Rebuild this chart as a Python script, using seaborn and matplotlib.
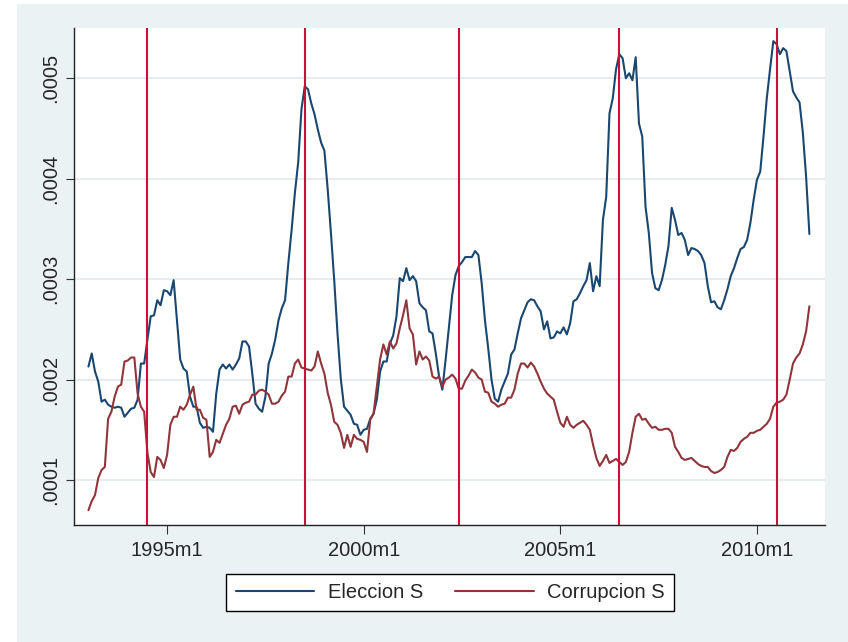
import matplotlib
matplotlib.use("Agg")
import matplotlib.pyplot as plt
from matplotlib.patches import Rectangle
from matplotlib.ticker import FuncFormatter
import pandas as pd
import seaborn as sns

START = "1993m1"
ELECTIONS = ["1994m7", "1998m7", "2002m6", "2006m7", "2010m7"]
X_TICKS = ["1995m1", "2000m1", "2005m1", "2010m1"]
Y_TICKS = [0.0001, 0.0002, 0.0003, 0.0004, 0.0005]
SERIES = ["Eleccion S", "Corrupcion S"]
COLORS = {"Eleccion S": "#1a476f", "Corrupcion S": "#90353b"}

# monthly values from 1993m1 (units of 1e-4)
eleccion = [
    2.13, 2.26, 2.08, 1.98, 1.78, 1.80, 1.75, 1.73, 1.72, 1.73, 1.72, 1.63,
    1.67, 1.71, 1.72, 1.80, 2.16, 2.16, 2.40, 2.63, 2.64, 2.79, 2.74, 2.89,
    2.88, 2.84, 2.99, 2.59, 2.20, 2.11, 2.08, 1.83, 1.73, 1.73, 1.57, 1.52,
    1.53, 1.52, 1.48, 1.86, 2.10, 2.15, 2.11, 2.15, 2.10, 2.15, 2.21, 2.38,
    2.38, 2.33, 2.06, 1.76, 1.71, 1.68, 1.83, 2.16, 2.26, 2.40, 2.59, 2.71,
    2.79, 3.16, 3.49, 3.86, 4.16, 4.69, 4.92, 4.89, 4.75, 4.64, 4.49, 4.36,
    4.28, 3.90, 3.46, 2.99, 2.46, 2.01, 1.73, 1.69, 1.65, 1.56, 1.55, 1.45,
    1.50, 1.51, 1.61, 1.66, 1.80, 2.08, 2.18, 2.18, 2.36, 2.44, 2.63, 3.01,
    2.98, 3.11, 2.99, 3.03, 2.98, 2.76, 2.72, 2.69, 2.48, 2.46, 2.26, 2.03,
    1.90, 2.20, 2.52, 2.84, 3.04, 3.13, 3.17, 3.22, 3.22, 3.22, 3.28, 3.24,
    2.96, 2.59, 2.31, 2.00, 1.81, 1.78, 1.90, 1.98, 2.06, 2.25, 2.30, 2.46,
    2.61, 2.69, 2.77, 2.80, 2.79, 2.73, 2.68, 2.50, 2.58, 2.41, 2.42, 2.48,
    2.46, 2.52, 2.45, 2.56, 2.78, 2.80, 2.86, 2.93, 2.99, 3.16, 2.88, 3.03,
    2.93, 3.59, 3.82, 4.65, 4.80, 5.09, 5.24, 5.20, 5.00, 5.05, 4.98, 5.21,
    4.55, 4.42, 3.72, 3.46, 3.06, 2.91, 2.89, 2.99, 3.14, 3.33, 3.71, 3.59,
    3.44, 3.46, 3.39, 3.24, 3.31, 3.30, 3.28, 3.24, 3.16, 2.93, 2.77, 2.78,
    2.72, 2.70, 2.79, 2.90, 3.03, 3.11, 3.21, 3.30, 3.32, 3.39, 3.56, 3.79,
    3.99, 4.07, 4.42, 4.80, 5.09, 5.37, 5.34, 5.24, 5.30, 5.27, 5.07, 4.87,
    4.81, 4.76, 4.46, 4.02, 3.45,
]
corrupcion = [
    0.70, 0.79, 0.85, 1.02, 1.10, 1.13, 1.61, 1.68, 1.83, 1.93, 1.95, 2.18,
    2.19, 2.22, 2.22, 1.86, 1.73, 1.68, 1.27, 1.08, 1.03, 1.23, 1.20, 1.12,
    1.25, 1.55, 1.63, 1.63, 1.73, 1.70, 1.75, 1.85, 1.93, 1.70, 1.70, 1.62,
    1.60, 1.23, 1.28, 1.40, 1.37, 1.46, 1.55, 1.61, 1.73, 1.74, 1.66, 1.75,
    1.77, 1.78, 1.85, 1.85, 1.89, 1.90, 1.88, 1.85, 1.76, 1.76, 1.78, 1.84,
    1.88, 2.03, 2.03, 2.16, 2.20, 2.12, 2.11, 2.10, 2.09, 2.13, 2.28, 2.16,
    2.06, 1.87, 1.75, 1.58, 1.55, 1.47, 1.32, 1.45, 1.33, 1.45, 1.41, 1.40,
    1.38, 1.28, 1.60, 1.66, 1.93, 2.20, 2.35, 2.25, 2.38, 2.31, 2.36, 2.51,
    2.64, 2.79, 2.51, 2.45, 2.15, 2.28, 2.20, 2.23, 2.19, 2.03, 2.01, 2.03,
    1.93, 2.00, 2.02, 2.05, 2.01, 1.91, 1.91, 1.99, 2.04, 2.10, 2.07, 2.02,
    2.00, 1.88, 1.87, 1.78, 1.76, 1.73, 1.75, 1.76, 1.82, 1.82, 1.90, 2.06,
    2.16, 2.16, 2.12, 2.17, 2.13, 2.06, 1.98, 1.91, 1.86, 1.83, 1.80, 1.68,
    1.57, 1.53, 1.63, 1.55, 1.52, 1.55, 1.57, 1.59, 1.55, 1.50, 1.35, 1.22,
    1.14, 1.19, 1.25, 1.17, 1.19, 1.21, 1.18, 1.15, 1.18, 1.28, 1.47, 1.63,
    1.66, 1.60, 1.61, 1.56, 1.52, 1.53, 1.50, 1.50, 1.51, 1.51, 1.47, 1.33,
    1.28, 1.22, 1.20, 1.21, 1.22, 1.19, 1.16, 1.14, 1.13, 1.13, 1.09, 1.07,
    1.08, 1.10, 1.13, 1.23, 1.30, 1.29, 1.32, 1.38, 1.41, 1.43, 1.47, 1.47,
    1.49, 1.50, 1.53, 1.56, 1.61, 1.73, 1.77, 1.78, 1.80, 1.85, 2.00, 2.16,
    2.22, 2.26, 2.35, 2.48, 2.73,
]


def tm(s):
    """Stata-style monthly date: months since 1960m1."""
    y, m = s.split("m")
    return (int(y) - 1960) * 12 + int(m) - 1


def tm_label(t, _pos=None):
    t = int(round(t))
    return f"{1960 + t // 12}m{t % 12 + 1}"


t0 = tm(START)
df = pd.concat([
    pd.DataFrame({"month": [t0 + i for i in range(len(eleccion))],
                  "value": [v * 1e-4 for v in eleccion], "series": SERIES[0]}),
    pd.DataFrame({"month": [t0 + i for i in range(len(corrupcion))],
                  "value": [v * 1e-4 for v in corrupcion], "series": SERIES[1]}),
])

sns.set_style("white")
plt.rcParams["font.family"] = ["Liberation Sans", "DejaVu Sans"]

fig = plt.figure(figsize=(8.48, 6.42), dpi=100)
fig.patch.set_facecolor("white")
fig.patches.append(Rectangle((0.02, 0.0), 0.98, 0.994, transform=fig.transFigure,
                             facecolor="#eaf2f3", edgecolor="none", zorder=-10))
ax = fig.add_axes([0.0873, 0.1822, 0.973 - 0.0873, 0.9569 - 0.1822])
ax.set_facecolor("white")

for ym in Y_TICKS:
    ax.axhline(ym, color="#e3eced", lw=1.3, zorder=0)
for e in ELECTIONS:
    ax.axvline(tm(e), color="#c8103a", lw=1.5, zorder=3)

sns.lineplot(data=df, x="month", y="value", hue="series", hue_order=SERIES,
             palette=COLORS, lw=1.5, ax=ax, zorder=2)

ax.set_xlim(t0 - 4.4, t0 + 224.8)
ax.set_ylim(0.0000552, 0.0005504)
ax.set_xticks([tm(s) for s in X_TICKS])
ax.xaxis.set_major_formatter(FuncFormatter(tm_label))
ax.set_yticks(Y_TICKS)
ax.yaxis.set_major_formatter(FuncFormatter(lambda v, _p: f"{v:.4f}"[1:]))
ax.set_xlabel("")
ax.set_ylabel("")

ax.tick_params(axis="x", direction="out", length=6.5, width=0.8, color="#333333",
               pad=5, labelsize=14.5, bottom=True)
ax.tick_params(axis="y", direction="out", length=6, width=0.8, color="#333333",
               pad=4, labelsize=14.5, left=True)
for lab in ax.get_yticklabels():
    lab.set_rotation(90)
    lab.set_va("center")

for side in ("top", "right"):
    ax.spines[side].set_visible(False)
for side in ("left", "bottom"):
    ax.spines[side].set_color("#222222")
    ax.spines[side].set_linewidth(1.0)

handles, labels = ax.get_legend_handles_labels()
ax.legend(handles, labels, loc="center", bbox_to_anchor=(0.531, 0.077),
          bbox_transform=fig.transFigure, ncol=2, fontsize=14.5, frameon=True,
          fancybox=False, edgecolor="black", framealpha=1, handlelength=3.9,
          handletextpad=0.68, columnspacing=1.6, borderpad=0.45)
ax.get_legend().get_frame().set_linewidth(1.0)

fig.savefig("out.png", dpi=100)
